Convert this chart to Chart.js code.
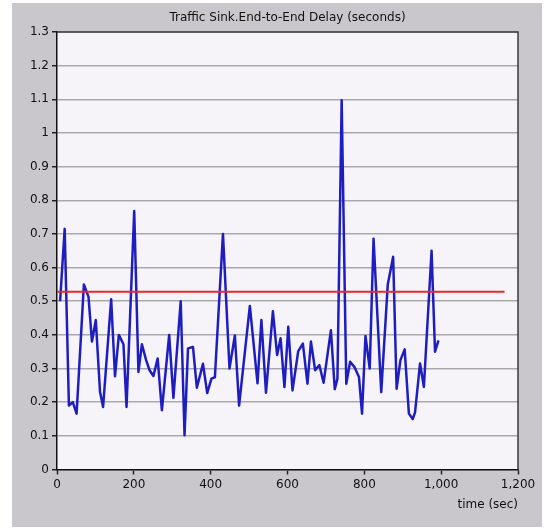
<!DOCTYPE html>
<html>
<head>
<meta charset="utf-8">
<script src="https://cdn.jsdelivr.net/npm/chart.js@4/dist/chart.umd.min.js"></script>
<style>
  html, body { margin: 0; padding: 0; background: #ffffff; }
  canvas { display: block; }
</style>
</head>
<body>
<canvas id="c" width="546" height="531"></canvas>
<script>
// ---- data ----
const chartTitle = 'Traffic Sink.End-to-End Delay (seconds)';
const xAxisTitle = 'time (sec)';
const timeSec = [8, 20, 31, 41, 51, 70, 82, 91, 101, 112, 120, 141, 151, 161, 173, 181, 201, 212, 221, 232,
  241, 251, 262, 273, 292, 303, 322, 332, 341, 354, 364, 380, 391, 402, 411, 432, 449, 463, 474, 502,
  522, 532, 544, 562, 573, 582, 592, 602, 613, 628, 640, 652, 661, 672, 683, 694, 713, 723, 730, 741,
  753, 763, 774, 786, 794, 803, 814, 824, 844, 861, 875, 884, 894, 905, 916, 926, 932, 945, 955, 975,
  984, 993];
const delaySec = [0.50, 0.715, 0.19, 0.20, 0.166, 0.55, 0.513, 0.38, 0.444, 0.23, 0.186, 0.506, 0.277, 0.40, 0.372, 0.186, 0.768, 0.29, 0.372, 0.325,
  0.295, 0.278, 0.33, 0.176, 0.40, 0.213, 0.50, 0.102, 0.36, 0.364, 0.243, 0.314, 0.227, 0.27, 0.274, 0.70, 0.30, 0.398, 0.19, 0.486,
  0.256, 0.444, 0.228, 0.47, 0.34, 0.39, 0.245, 0.424, 0.235, 0.352, 0.374, 0.255, 0.38, 0.295, 0.31, 0.258, 0.414, 0.239, 0.27, 1.097,
  0.255, 0.32, 0.305, 0.275, 0.166, 0.397, 0.30, 0.686, 0.23, 0.55, 0.632, 0.24, 0.325, 0.357, 0.166, 0.15, 0.17, 0.315, 0.245, 0.65,
  0.35, 0.384];
const refLineX = [0, 1165];
const refLineValue = 0.528;
const xTickStep = 200, xMin = 0, xMax = 1200;
const yTickStep = 0.1, yMin = 0, yMax = 1.3;

// ---- build library data ----
const delayPoints = timeSec.map((t, i) => ({ x: t, y: delaySec[i] }));
const refPoints = refLineX.map(t => ({ x: t, y: refLineValue }));

const FONT = "'DejaVu Sans', Verdana, sans-serif";

const panelPlugin = {
  id: 'panel',
  beforeDraw(chart) {
    const { ctx, chartArea: a } = chart;
    ctx.save();
    ctx.fillStyle = '#ffffff';
    ctx.fillRect(0, 0, chart.width, chart.height);
    ctx.fillStyle = '#c9c7cc';
    ctx.fillRect(12, 3, 530, 524);
    ctx.fillStyle = '#f6f4f8';
    ctx.fillRect(a.left, a.top, a.right - a.left, a.bottom - a.top);
    ctx.restore();
  },
  afterDraw(chart) {
    const { ctx, chartArea: a } = chart;
    ctx.save();
    ctx.strokeStyle = '#3a3a3a';
    ctx.lineWidth = 1.5;
    ctx.beginPath();
    ctx.moveTo(a.left, a.top);
    ctx.lineTo(a.right, a.top);
    ctx.lineTo(a.right, a.bottom);
    ctx.stroke();
    ctx.restore();
  }
};

new Chart(document.getElementById('c'), {
  type: 'scatter',
  data: {
    datasets: [
      {
        data: refPoints,
        showLine: true,
        borderColor: '#e8282a',
        borderWidth: 2,
        pointRadius: 0,
        tension: 0
      },
      {
        data: delayPoints,
        showLine: true,
        borderColor: '#1e1ec0',
        borderWidth: 2.5,
        pointRadius: 0,
        tension: 0,
        borderJoinStyle: 'round'
      }
    ]
  },
  options: {
    responsive: false,
    animation: false,
    devicePixelRatio: 1,
    layout: { padding: { left: 12, right: 28, top: 0, bottom: 0 } },
    plugins: {
      legend: { display: false },
      tooltip: { enabled: false },
      title: { display: false }
    },
    scales: {
      titleAxis: {
        type: 'linear',
        position: 'top',
        min: xMin,
        max: xMax,
        ticks: { display: false },
        grid: { display: false, drawTicks: false },
        border: { display: false },
        title: {
          display: true,
          text: chartTitle,
          color: '#111',
          font: { family: FONT, size: 12, weight: 'normal' },
          padding: { top: 11, bottom: 7 }
        },
        afterFit(s) { s.height = 32; }
      },
      x: {
        type: 'linear',
        position: 'bottom',
        min: xMin,
        max: xMax,
        ticks: {
          stepSize: xTickStep,
          color: '#111',
          font: { family: FONT, size: 12 },
          padding: 3,
          maxRotation: 0,
          callback: v => Number(v).toLocaleString('en-US')
        },
        grid: {
          drawOnChartArea: false,
          drawTicks: true,
          tickLength: 5,
          tickColor: '#222',
          tickWidth: 1.5
        },
        border: { display: true, color: '#111', width: 1.5 },
        title: {
          display: true,
          text: xAxisTitle,
          align: 'end',
          color: '#111',
          font: { family: FONT, size: 12 },
          padding: { top: 0, bottom: 19 }
        },
        afterFit(s) { s.height = 61.5; }
      },
      y: {
        type: 'linear',
        min: yMin,
        max: yMax,
        ticks: {
          stepSize: yTickStep,
          color: '#111',
          font: { family: FONT, size: 12 },
          padding: 3,
          callback: v => String(Math.round(v * 10) / 10)
        },
        grid: {
          color: '#a9a9ab',
          lineWidth: 1.5,
          drawTicks: true,
          tickLength: 5,
          tickColor: '#222',
          tickWidth: 1.5
        },
        border: { display: true, color: '#111', width: 1.5 },
        afterFit(s) { s.width = 45; }
      }
    }
  },
  plugins: [panelPlugin]
});
</script>
</body>
</html>
